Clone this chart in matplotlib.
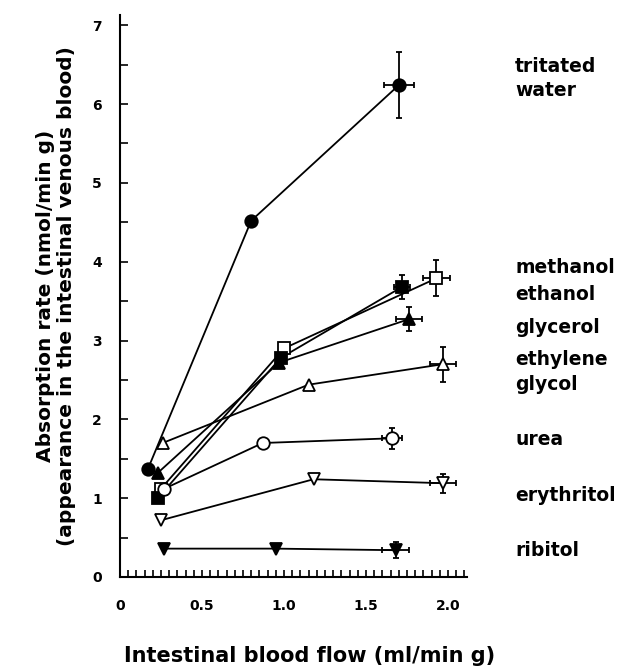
import matplotlib
matplotlib.use("Agg")
import matplotlib.pyplot as plt
from matplotlib.ticker import MultipleLocator, FixedLocator

plt.rcParams['font.family'] = ['DejaVu Sans']

# ---- data ----
names = ["tritated\nwater", "methanol", "ethanol", "glycerol",
         "ethylene\nglycol", "urea", "erythritol", "ribitol"]

water_x = [0.17, 0.80, 1.70]
water_y = [1.37, 4.52, 6.24]
methanol_x = [0.25, 1.00, 1.93]
methanol_y = [1.12, 2.90, 3.79]
ethanol_x = [0.23, 0.98, 1.72]
ethanol_y = [1.00, 2.78, 3.68]
glycerol_x = [0.23, 0.97, 1.76]
glycerol_y = [1.32, 2.72, 3.27]
ethglycol_x = [0.26, 1.15, 1.97]
ethglycol_y = [1.70, 2.44, 2.70]
urea_x = [0.27, 0.87, 1.66]
urea_y = [1.12, 1.70, 1.76]
erythritol_x = [0.25, 1.18, 1.97]
erythritol_y = [0.72, 1.24, 1.19]
ribitol_x = [0.27, 0.95, 1.68]
ribitol_y = [0.36, 0.36, 0.34]

# error of the last point of each series (x, y)
last_xerr = [0.09, 0.08, 0.05, 0.08, 0.08, 0.06, 0.08, 0.08]
last_yerr = [0.42, 0.23, 0.15, 0.15, 0.22, 0.13, 0.12, 0.10]

# label vertical positions in data units (right margin)
label_y = [6.32, 3.93, 3.59, 3.17, 2.60, 1.74, 1.04, 0.34]

series_x = [water_x, methanol_x, ethanol_x, glycerol_x, ethglycol_x, urea_x, erythritol_x, ribitol_x]
series_y = [water_y, methanol_y, ethanol_y, glycerol_y, ethglycol_y, urea_y, erythritol_y, ribitol_y]

markers = ['o', 's', 's', '^', '^', 'o', 'v', 'v']
filled = [True, False, True, True, False, False, False, True]

fig = plt.figure(figsize=(6.24, 6.66), dpi=100)
ax = fig.add_axes([120/624, 89/666, 347/624, 562/666])

for xs, ys, m, f, xe, ye in zip(series_x, series_y, markers, filled, last_xerr, last_yerr):
    ax.plot(xs, ys, color='black', lw=1.3, zorder=2)
    ax.errorbar([xs[-1]], [ys[-1]], xerr=[xe], yerr=[ye], fmt='none',
                ecolor='black', elinewidth=1.3, capsize=2.2, capthick=1.3, zorder=3)
    ax.plot(xs, ys, linestyle='none', marker=m, markersize=9,
            markerfacecolor='black' if f else 'white',
            markeredgecolor='black', markeredgewidth=1.3, zorder=4)

ax.set_xlim(0, 2.116)
ax.set_ylim(0, 7.13)

for s in ['top', 'right']:
    ax.spines[s].set_visible(False)
for s in ['left', 'bottom']:
    ax.spines[s].set_linewidth(1.5)

ax.xaxis.set_major_locator(FixedLocator([0, 0.5, 1.0, 1.5, 2.0]))
ax.set_xticklabels(['0', '0.5', '1.0', '1.5', '2.0'])
ax.xaxis.set_minor_locator(MultipleLocator(0.05))
ax.yaxis.set_major_locator(MultipleLocator(1))
ax.yaxis.set_minor_locator(MultipleLocator(0.5))
ax.tick_params(axis='x', which='both', direction='in', length=5, width=1.2, pad=16, labelsize=10)
ax.tick_params(axis='y', which='both', direction='in', length=6, width=1.2, pad=13, labelsize=10)
for lab in ax.get_xticklabels() + ax.get_yticklabels():
    lab.set_fontweight('bold')

ax.set_xlabel("Intestinal blood flow (ml/min g)", fontsize=15, fontweight='bold')
ax.xaxis.set_label_coords(0.545, -0.123)
ax.set_ylabel("Absorption rate (nmol/min g)\n(appearance in the intestinal venous blood)",
              fontsize=14.5, labelpad=12, linespacing=1.1, fontweight='bold')

for name, ly in zip(names, label_y):
    ax.text(2.41, ly, name, transform=ax.transData, fontsize=13.5, fontweight='bold',
            ha='left', va='center', linespacing=1.35, clip_on=False)

fig.savefig("out.png", dpi=100)
